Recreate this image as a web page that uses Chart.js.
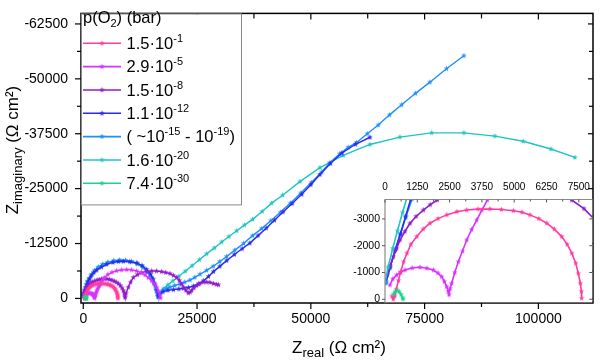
<!DOCTYPE html>
<html><head><meta charset="utf-8">
<script src="https://cdn.jsdelivr.net/npm/chart.js@4"></script>
<style>
html,body{margin:0;padding:0;background:#fff;}
#wrap{position:relative;width:600px;height:361px;overflow:hidden;}
#main{position:absolute;left:0;top:0;width:600px;height:361px;}
#inset{position:absolute;left:330px;top:170px;width:270px;height:140px;}
</style></head><body>
<div id="wrap">
<canvas id="main" width="600" height="361"></canvas>
<canvas id="inset" width="270" height="140"></canvas>
</div>
<script>
// ---------------- DATA ----------------
// 1.5e-1 bar
const zr_a = [270,320,380,440,520,600,720,850,1000,1230,1480,1740,2050,2390,2780,3160,3600,4060,4500,4970,5300,5610,5950,6260,6550,6840,7050,7230,7380,7480,7560,7600,7610];
const zi_a = [-120,-10,-120,-380,-700,-1000,-1400,-1720,-2050,-2340,-2620,-2840,-3010,-3150,-3270,-3330,-3365,-3370,-3350,-3305,-3250,-3150,-3010,-2840,-2620,-2340,-2050,-1720,-1350,-970,-600,-300,-40];
// 2.9e-5 bar
const zr_b = [193,300,452,600,774,1050,1355,1620,1870,2050,2193,2300,2387,2450,2477,2520,2580,2700,2837,3000,3162,3350,3549,3750,3960,4300,4600,5400,6300,7340,8400,9530,10600,11730,12700,13550,14300,15020,15600,16120,16500,16850,17000];
const zi_b = [-533,-760,-906,-1020,-1093,-1170,-1194,-1160,-1093,-980,-843,-660,-470,-300,-186,-400,-597,-1000,-1402,-1800,-2212,-2600,-2958,-3330,-3704,-4250,-4700,-5450,-5950,-6300,-6480,-6550,-6500,-6250,-5850,-5360,-4750,-4040,-3300,-2560,-1700,-730,-100];
// 1.5e-8 bar
const zr_c = [89,200,322,450,580,770,968,1200,1483,1750,2024,2500,3000,3500,4000,4600,5200,5800,6300,6800,7225,7700,8130,8500,8800,9020,9150,9200,9400,9890,10400,10990,11900,12830,13900,15030,16100,17220,18100,19050,19800,20520,21100,21620,22100,22560,23070,23500,23810,24300,24910,25600,26370,27100,27830,28600,29300,29700];
const zi_c = [-906,-1250,-1589,-1900,-2212,-2530,-2835,-3090,-3331,-3530,-3704,-3950,-4150,-4300,-4400,-4450,-4430,-4320,-4150,-3930,-3704,-3380,-2957,-2400,-1800,-1100,-500,-220,-1200,-2560,-3700,-4770,-5400,-5870,-6150,-6250,-6230,-6090,-5900,-5650,-5250,-4770,-4100,-3300,-2500,-1830,-1240,-1450,-1830,-2400,-2930,-3350,-3700,-3720,-3650,-3400,-3200,-3100];
// 1.1e-12 bar
const zr_d = [40,200,400,600,800,1000,1300,1700,2300,2940,4000,5140,6500,7700,8790,10200,11730,12900,13930,14800,15380,15800,16120,16470,16700,17500,18600,19800,21000,22000,23100,24200,25300,26400,27500,28600,30000,31500,33200,34900,36600,38400,40200,42000,43900,45900,48000,50000,52000,54300,56800,59800,63000];
const zi_d = [-650,-1200,-1850,-2450,-3100,-3750,-4450,-5150,-5900,-6450,-7150,-7750,-8200,-8400,-8450,-8350,-8080,-7500,-6615,-5550,-4410,-3100,-1830,-500,-900,-1500,-1850,-2000,-2150,-2300,-2500,-2800,-3300,-4000,-5000,-6100,-7300,-8600,-10000,-11300,-12600,-14300,-16000,-17800,-19700,-21600,-23700,-25900,-28200,-30700,-33100,-35100,-36700];
// ~1e-15 - 1e-19 bar
const zr_e = [30,180,380,580,800,1050,1400,1900,2500,3300,4300,5400,6700,8000,9300,10600,11900,13100,14100,14900,15500,15950,16250,16400,16800,17570,18300,19050,20100,21240,22300,23440,24500,25640,27100,28560,30000,31500,33300,35200,37200,39190,41200,43300,45500,47800,50100,52400,54150,56300,58200,60060,62400,64800,67300,69950,73000,76170,79800,83630];
const zi_e = [-600,-1150,-1800,-2400,-3050,-3750,-4550,-5450,-6300,-7100,-7750,-8200,-8550,-8700,-8650,-8400,-7900,-7100,-6000,-4800,-3500,-2200,-1100,-400,-1100,-1830,-2250,-2560,-2950,-3300,-3700,-4190,-4800,-5510,-6400,-7340,-8400,-9550,-11000,-12500,-14300,-15900,-17700,-19600,-21700,-24000,-26400,-28800,-30870,-32900,-34400,-35500,-37500,-39470,-41800,-44100,-46700,-49240,-52300,-55260];
// 1.6e-20 bar
const zr_f = [10,120,300,480,680,900,1400,1900,2500,3300,4300,5400,6700,8000,9300,10600,11900,13100,14100,14900,15500,15950,16250,16500,17000,17570,18600,19700,21000,22400,23900,25500,27100,28800,30400,32000,33700,35400,37200,39300,41390,43800,47600,52000,57120,62980,69570,76530,83630,90440,96660,102750,108020];
const zi_f = [-650,-1200,-1900,-2550,-3250,-3950,-4550,-5450,-6300,-7100,-7750,-8200,-8550,-8700,-8650,-8400,-7900,-7100,-6000,-4800,-3500,-2200,-1100,-400,-1300,-2200,-3100,-4000,-5050,-6200,-7450,-8800,-10150,-11500,-12850,-14100,-15400,-16700,-18000,-19800,-21700,-23500,-26600,-29770,-32550,-35060,-36740,-37700,-37700,-36960,-35790,-34020,-32100];
// 7.4e-30 bar
const zr_g = [330,390,470,550,620,680,700];
const zi_g = [-200,-280,-320,-280,-180,-60,-10];

const seriesColors = ['#ff3d9e','#d633ff','#8f1ccc','#2b2bee','#1e8fff','#1fc4c4','#1fd38f'];
// legend text pieces
const legendTitle = [['p(O',''],['2','sub'],[') (bar)','']];
const legendTexts = [
  [['1.5·10',''],['-1','sup']],
  [['2.9·10',''],['-5','sup']],
  [['1.5·10',''],['-8','sup']],
  [['1.1·10',''],['-12','sup']],
  [['( ~10',''],['-15','sup'],[' - 10',''],['-19','sup'],[')','']],
  [['1.6·10',''],['-20','sup']],
  [['7.4·10',''],['-30','sup']]
];
// ticks
const xMajor = [0,25000,50000,75000,100000];
const xMinor = [12500,37500,62500,87500];
const yMajor = [-62500,-50000,-37500,-25000,-12500,0];
const yMinor = [-56250,-43750,-31250,-18750,-6250];
const insetXMajor = [0,1250,2500,3750,5000,6250,7500];
const insetXMinor = [625,1875,3125,4375,5625,6875];
const insetYMajor = [-3000,-2000,-1000,0];

// ---------------- helpers ----------------
const FONT = "'Liberation Sans', Arial, sans-serif";
Chart.defaults.font.family = FONT;
Chart.defaults.color = '#000';

function pts(xs, ys){ return xs.map((x,i)=>({x:x, y:ys[i]})); }
function starImg(color){
  const c = document.createElement('canvas'); c.width = 7; c.height = 7;
  const g = c.getContext('2d'); g.fillStyle = color; g.beginPath();
  for (let k=0;k<10;k++){ const r = k%2 ? 1.2 : 3.0; const a = -Math.PI/2 + k*Math.PI/5;
    g.lineTo(3.5 + r*Math.cos(a), 3.5 + r*Math.sin(a)); }
  g.closePath(); g.fill(); return c;
}
const stars = seriesColors.map(starImg);
const allX = [zr_a,zr_b,zr_c,zr_d,zr_e,zr_f,zr_g];
const allY = [zi_a,zi_b,zi_c,zi_d,zi_e,zi_f,zi_g];

function makeDatasets(inset){
  return allX.map((xs,i)=>({
    data: pts(xs, allY[i]),
    showLine: true,
    borderColor: seriesColors[i],
    backgroundColor: seriesColors[i],
    borderWidth: inset ? 1.6 : 1.4,
    pointStyle: stars[i],
    pointRadius: 3,
    order: i===6 ? -2 : (inset && i===5 ? -1 : i)
  }));
}

function rich(ctx, parts, size, subSize){
  let w = 0;
  for (const [t,k] of parts){
    ctx.font = (k ? subSize : size) + 'px ' + FONT;
    w += ctx.measureText(t).width;
  }
  return w;
}
function drawRich(ctx, parts, x, y, size, subSize, supDy, subDy){
  for (const [t,k] of parts){
    ctx.font = (k ? subSize : size) + 'px ' + FONT;
    const dy = k==='sup' ? supDy : (k==='sub' ? subDy : 0);
    ctx.fillText(t, x, y + dy);
    x += ctx.measureText(t).width;
  }
  return x;
}
function line(ctx,x1,y1,x2,y2){ ctx.beginPath(); ctx.moveTo(x1,y1); ctx.lineTo(x2,y2); ctx.stroke(); }

// ---------------- main chart ----------------
const mainDecor = {
  id: 'mainDecor',
  afterDraw(chart){
    const ctx = chart.ctx, a = chart.chartArea, xs = chart.scales.x, ys = chart.scales.y;
    ctx.save();
    ctx.strokeStyle = '#000'; ctx.lineWidth = 1.5;
    ctx.strokeRect(a.left, a.top, a.right-a.left, a.bottom-a.top);
    ctx.lineWidth = 1.2;
    xMajor.forEach(v=>{ const p = xs.getPixelForValue(v); line(ctx,p,a.bottom,p,a.bottom+6); line(ctx,p,a.top,p,a.top+6); });
    xMinor.forEach(v=>{ const p = xs.getPixelForValue(v); line(ctx,p,a.bottom,p,a.bottom+4); line(ctx,p,a.top,p,a.top+5); });
    yMajor.forEach(v=>{ const p = ys.getPixelForValue(v); line(ctx,a.left-6,p,a.left,p); line(ctx,a.right-5,p,a.right,p); });
    yMinor.forEach(v=>{ const p = ys.getPixelForValue(v); line(ctx,a.left-4,p,a.left,p); line(ctx,a.right-4,p,a.right,p); });

    // legend
    ctx.fillStyle = '#fff';
    ctx.fillRect(a.left+1, a.top+1, 159, 190);
    ctx.strokeStyle = '#8a8a8a'; ctx.lineWidth = 1;
    ctx.strokeRect(a.left+0.5, a.top+0.5, 160, 191);
    ctx.fillStyle = '#000'; ctx.textBaseline = 'alphabetic'; ctx.textAlign = 'left';
    drawRich(ctx, legendTitle, 83, 22.5, 16.5, 11, -7, 4);
    legendTexts.forEach((parts,i)=>{
      const ly = 43.3 + 23.33*i;
      ctx.strokeStyle = seriesColors[i]; ctx.lineWidth = 1.6;
      line(ctx, 83, ly, 121, ly);
      ctx.drawImage(stars[i], 102-3.5, ly-3.5);
      ctx.fillStyle = '#000';
      drawRich(ctx, parts, 126.5, ly+5.8, 16.5, 11, -7, 4);
    });

    // x title
    const xt = [['Z',''],['real','sub'],[' (Ω cm²)','']];
    const wx = rich(ctx, xt, 17, 13);
    drawRich(ctx, xt, 339 - wx/2, 353, 17, 13, -7, 4);
    // y title
    const yt = [['Z',''],['imaginary','sub'],[' (Ω cm²)','']];
    const wy = rich(ctx, yt, 17, 13);
    ctx.translate(18, 150); ctx.rotate(-Math.PI/2);
    drawRich(ctx, yt, -wy/2, 0, 17, 13, -7, 4);
    ctx.restore();
  }
};

new Chart(document.getElementById('main'), {
  type: 'scatter',
  data: { datasets: makeDatasets(false) },
  options: {
    responsive: false, animation: false, devicePixelRatio: 1,
    layout: { padding: { left: 0, top: 4, right: 7, bottom: 0 } },
    plugins: { legend: { display: false }, tooltip: { enabled: false } },
    scales: {
      x: {
        type: 'linear', min: -500, max: 112000,
        grid: { display: false }, border: { display: false },
        afterBuildTicks: s => { s.ticks = xMajor.map(v=>({value:v})); },
        afterFit: s => { s.height = 58; },
        ticks: { font: { size: 14 }, color: '#000', padding: 0, maxRotation: 0, callback: v => String(v) }
      },
      y: {
        type: 'linear', min: -64900, max: 1040, reverse: true,
        grid: { display: false }, border: { display: false },
        afterBuildTicks: s => { s.ticks = yMajor.map(v=>({value:v})); },
        afterFit: s => { s.width = 81; },
        ticks: { font: { size: 14 }, color: '#000', padding: 5, callback: v => String(v) }
      }
    }
  },
  plugins: [mainDecor]
});

// ---------------- inset chart ----------------
const insetDecor = {
  id: 'insetDecor',
  beforeDatasetsDraw(chart){
    const ctx = chart.ctx, a = chart.chartArea;
    ctx.save(); ctx.fillStyle = '#fff'; ctx.fillRect(a.left, a.top, a.right-a.left, a.bottom-a.top); ctx.restore();
  },
  afterDraw(chart){
    const ctx = chart.ctx, a = chart.chartArea, xs = chart.scales.x, ys = chart.scales.y;
    ctx.save();
    ctx.strokeStyle = '#8a8a8a'; ctx.lineWidth = 1.2;
    line(ctx, a.left, a.top, a.right, a.top);
    line(ctx, a.left, a.top, a.left, a.bottom+1);
    ctx.strokeStyle = '#555'; ctx.lineWidth = 1;
    insetXMajor.forEach(v=>{ const p = xs.getPixelForValue(v); line(ctx,p,a.top,p,a.top+3); });
    insetXMinor.forEach(v=>{ const p = xs.getPixelForValue(v); line(ctx,p,a.top,p,a.top+2); });
    insetYMajor.forEach(v=>{ const p = ys.getPixelForValue(v); line(ctx,a.left-3,p,a.left,p); line(ctx,a.right-3,p,a.right,p); });
    ctx.restore();
  }
};

new Chart(document.getElementById('inset'), {
  type: 'scatter',
  data: { datasets: makeDatasets(true) },
  options: {
    responsive: false, animation: false, devicePixelRatio: 1,
    layout: { padding: { left: 0, top: 0, right: 7.75, bottom: 7.75 } },
    plugins: { legend: { display: false }, tooltip: { enabled: false } },
    scales: {
      x: {
        type: 'linear', position: 'top', min: 0, max: 8020,
        grid: { display: false }, border: { display: false },
        afterBuildTicks: s => { s.ticks = insetXMajor.map(v=>({value:v})); },
        afterFit: s => { s.height = 29.5; },
        ticks: { font: { size: 10 }, color: '#000', padding: -2, maxRotation: 0, autoSkip: false, callback: v => String(v) }
      },
      y: {
        type: 'linear', min: -3724, max: 110, reverse: true,
        grid: { display: false }, border: { display: false },
        afterBuildTicks: s => { s.ticks = insetYMajor.map(v=>({value:v})); },
        afterFit: s => { s.width = 55; },
        ticks: { font: { size: 10.5 }, color: '#000', padding: -3, callback: v => String(v) }
      }
    }
  },
  plugins: [insetDecor]
});
</script>
</body></html>
